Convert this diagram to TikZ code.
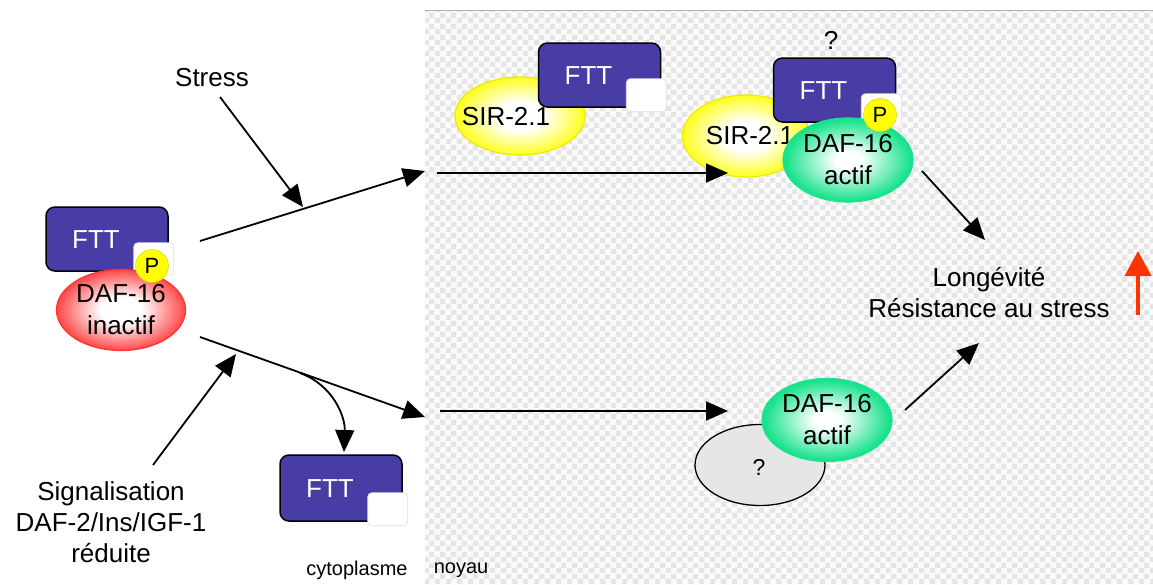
\documentclass[tikz,border=0pt]{standalone}
\usepackage{fontspec}
\setmainfont{Liberation Sans}
\usetikzlibrary{arrows.meta,shapes.geometric,patterns,calc}
\pgfdeclarepatternformonly{chk}{\pgfpointorigin}{\pgfpoint{10.6pt}{10.6pt}}{\pgfpoint{10.6pt}{10.6pt}}{%
  \pgfpathrectangle{\pgfpointorigin}{\pgfpoint{5.3pt}{5.3pt}}%
  \pgfpathrectangle{\pgfpoint{5.3pt}{5.3pt}}{\pgfpoint{5.3pt}{5.3pt}}%
  \pgfusepath{fill}}
\definecolor{fttblue}{RGB}{72,60,165}
\definecolor{chkgray}{RGB}{229,229,229}
\definecolor{chkwhite}{RGB}{250,250,250}
\definecolor{dafgreen}{RGB}{24,226,140}
\definecolor{siryellow}{RGB}{255,255,0}
\definecolor{inred}{RGB}{255,50,50}
\definecolor{upred}{RGB}{255,51,0}
\definecolor{qgray}{RGB}{230,230,230}
\pgfdeclareradialshading{redrad}{\pgfpoint{0bp}{0bp}}{color(0bp)=(white); color(8bp)=(white); color(27bp)=(inred); color(50bp)=(inred)}
\pgfdeclareradialshading{yelrad}{\pgfpoint{0bp}{0bp}}{color(0bp)=(white); color(9bp)=(white); color(27bp)=(siryellow); color(50bp)=(siryellow)}
\pgfdeclareradialshading{grnrad}{\pgfpoint{0bp}{0bp}}{color(0bp)=(white); color(5bp)=(white); color(24bp)=(dafgreen); color(50bp)=(dafgreen)}
\newcommand\fsz[2]{\fontsize{#1}{#2}\selectfont}
\begin{document}
\begin{tikzpicture}[x=1pt,y=-1pt,
  fttbox/.style={draw=black, line width=1.5pt, fill=fttblue, rounded corners=9pt,
    minimum width=122pt, minimum height=64pt, inner sep=0pt},
  ftttext/.style={text=white, font=\fsz{26}{31}, inner sep=0pt},
  notchbox/.style={fill=white, draw=black!12, line width=0.6pt, rounded corners=4pt,
    minimum width=40pt, minimum height=33pt, inner sep=0pt},
  ell/.style={ellipse, inner sep=0pt, align=center, font=\fsz{26}{32}},
  inact/.style={ell, draw=inred, line width=1.2pt, shading=redrad},
  sir/.style={ell, draw=siryellow!92!black, line width=1.2pt, shading=yelrad},
  act/.style={ell, draw=dafgreen, line width=1.2pt, shading=grnrad},
  qell/.style={ell, draw=black, line width=1.3pt, fill=qgray},
  pcirc/.style={circle, fill=siryellow, draw=siryellow!85!black, line width=0.5pt,
    minimum size=33pt, inner sep=0pt, font=\fsz{22}{24}},
  lbl/.style={font=\fsz{26}{31}, align=center, inner sep=0pt},
  small/.style={font=\fsz{20}{24}, inner sep=0pt},
  arr/.style={draw=black, line width=1.8pt, -{Triangle[length=22pt,width=19pt]}}
]
\useasboundingbox (0,0) rectangle (1153,584);
\fill[white] (0,0) rectangle (1153,584);
% nucleus background
\fill[chkwhite] (425,10) rectangle (1153,584);
\fill[pattern=chk, pattern color=chkgray] (425,10) rectangle (1153,584);
\draw[black!30, line width=1pt] (425,10) -- (1153,10);

% left group
\node[fttbox] (f1) at (107,239) {};
\node[ftttext] (f1t) at ($(f1.center)+(-11,1)$) {FTT};
\node[notchbox] (n1) at ($(f1.south east)+(-15,-12.5)$) {};
\node[inact, minimum width=129pt, minimum height=81pt] (d1) at (121,310) {DAF-16\\inactif};
\node[pcirc] (p1) at (152,266) {P};

% top-middle group
\node[sir, minimum width=130pt, minimum height=78pt] (s1) at (520,116) {};
\node[lbl] (s1t) at (506,117) {SIR-2.1};
\node[fttbox] (f2) at (599.5,75) {};
\node[ftttext] (f2t) at ($(f2.center)+(-11,1)$) {FTT};
\node[notchbox] (n2) at ($(f2.south east)+(-15,-12.5)$) {};

% top-right group
\node[lbl] (q1) at (831,40) {?};
\node[sir, minimum width=127pt, minimum height=82pt] (s2) at (746,136) {};
\node[lbl] (s2t) at (750,136) {SIR-2.1};
\node[fttbox] (f3) at (834.5,90) {};
\node[ftttext] (f3t) at ($(f3.center)+(-11,1)$) {FTT};
\node[notchbox] (n3) at ($(f3.south east)+(-15,-12.5)$) {};
\node[act, minimum width=130pt, minimum height=84pt] (d2) at (848,160) {DAF-16\\actif};
\node[pcirc] (p2) at (880,115) {P};

% bottom-right group
\node[qell, minimum width=130pt, minimum height=81pt] (g1) at (760,465) {};
\node[lbl, font=\fsz{23}{28}] (g1t) at (759,467) {?};
\node[act, minimum width=130pt, minimum height=83pt] (d3) at (827,420) {DAF-16\\actif};

% bottom FTT
\node[fttbox, minimum height=66pt] (f4) at (341,488) {};
\node[ftttext] (f4t) at ($(f4.center)+(-11,1)$) {FTT};
\node[notchbox] (n4) at ($(f4.south east)+(-15,-12.5)$) {};

% labels
\node[lbl] (stress) at (212,78) {Stress};
\node[lbl] (lon) at (989,293) {Longévité\\Résistance au stress};
\node[lbl] (sig) at (111,522) {Signalisation\\DAF-2/Ins/IGF-1\\réduite};
\node[small] (cyto) at (357,570) {cytoplasme};
\node[small] (noy) at (461,570) {noyau};

% arrow coordinates
\coordinate (a1s) at (200,241);
\coordinate (a1e) at (425,171);
\coordinate (st1) at (220,97);
\coordinate (st2) at (303,207);
\coordinate (a2s) at (437,173);
\coordinate (a2e) at (728,173);
\coordinate (b1s) at (200,337);
\coordinate (b1e) at (425,417);
\coordinate (bm) at (300,373);
\coordinate (bf) at (344,452);
\coordinate (sg1) at (153,465);
\coordinate (sg2) at (236,354);
\coordinate (b2s) at (440,411);
\coordinate (b2e) at (728,411);
\coordinate (r1s) at (922,171);
\coordinate (r1e) at (985,240);
\coordinate (r2s) at (905,410);
\coordinate (r2e) at (979,343);
\coordinate (upb) at (1138,315);
\coordinate (upt) at (1138,251);

\draw[arr] (a1s) -- (a1e);
\draw[arr] (st1) -- (st2);
\draw[arr] (a2s) -- (a2e);
\draw[arr] (b1s) -- (b1e);
\draw[arr] (bm) to[out=-20, in=88] (bf);
\draw[arr] (sg1) -- (sg2);
\draw[arr] (b2s) -- (b2e);
\draw[arr] (r1s) -- (r1e);
\draw[arr] (r2s) -- (r2e);
\draw[upred, line width=4pt, -{Triangle[length=25pt,width=26pt]}] (upb) -- (upt);
\end{tikzpicture}
\end{document}
